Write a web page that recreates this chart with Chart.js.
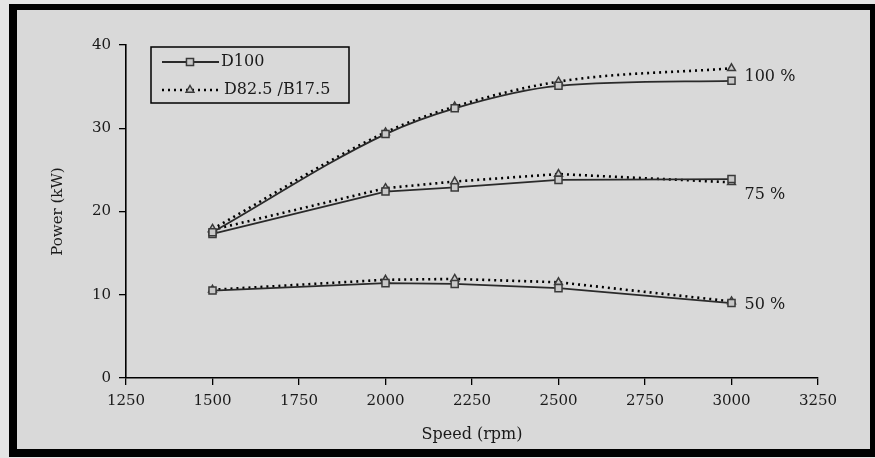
<!DOCTYPE html>
<html>
<head>
<meta charset="utf-8">
<script src="https://cdn.jsdelivr.net/npm/chart.js@4/dist/chart.umd.min.js"></script>
<style>
  html, body { margin: 0; padding: 0; background: #e4e4e4; width: 875px; height: 458px; overflow: hidden; }
  #frame { position: absolute; left: 9px; top: 4px; width: 866px; height: 453px; box-sizing: border-box;
           border-left: 8px solid #000; border-top: 6px solid #000; border-right: 5px solid #000; border-bottom: 8px solid #000;
           background: #d9d9d9; }
  #wrap { position: absolute; left: 0; top: 0; width: 875px; height: 458px; }
</style>
</head>
<body>
<div id="frame"></div>
<div id="wrap"><canvas id="c" width="875" height="458"></canvas></div>
<script>
// ---- data ----
const speeds = [1500, 2000, 2200, 2500, 3000];
const d100_100 = [17.5, 29.3, 32.4, 35.1, 35.7];
const blend_100 = [17.9, 29.5, 32.6, 35.6, 37.2];
const d100_75 = [17.3, 22.4, 22.9, 23.8, 23.9];
const blend_75 = [17.8, 22.8, 23.6, 24.5, 23.5];
const d100_50 = [10.5, 11.4, 11.3, 10.8, 9.0];
const blend_50 = [10.6, 11.8, 11.9, 11.5, 9.2];
const seriesNames = ['D100', 'D82.5 /B17.5'];
const loadLabels = ['100 %', '75 %', '50 %'];
const loadLabelY = [36.2, 22.0, 8.8];
const xTicks = [1250, 1500, 1750, 2000, 2250, 2500, 2750, 3000, 3250];
const yTicks = [0, 10, 20, 30, 40];

const FONT = "'DejaVu Serif', 'Liberation Serif', serif";
const toPts = ys => speeds.map((x, i) => ({x: x, y: ys[i]}));

const solidStyle = {
  borderColor: '#2a2a2a', borderWidth: 1.8, pointStyle: 'rect', pointRadius: 5,
  pointBorderColor: '#3a3a3a', pointBackgroundColor: '#c8c8c8', pointBorderWidth: 1.5
};
const dotStyle = {
  borderColor: '#000', borderWidth: 2.6, borderDash: [2, 4], borderCapStyle: 'butt', pointStyle: 'triangle', pointRadius: 4.5,
  pointBorderColor: '#3a3a3a', pointBackgroundColor: '#c8c8c8', pointBorderWidth: 1.5
};

const datasets = [
  Object.assign({label: seriesNames[0], data: toPts(d100_100), cubicInterpolationMode: 'monotone'}, solidStyle),
  Object.assign({label: seriesNames[1], data: toPts(blend_100), cubicInterpolationMode: 'monotone'}, dotStyle),
  Object.assign({label: seriesNames[0], data: toPts(d100_75)}, solidStyle),
  Object.assign({label: seriesNames[1], data: toPts(blend_75)}, dotStyle),
  Object.assign({label: seriesNames[0], data: toPts(d100_50)}, solidStyle),
  Object.assign({label: seriesNames[1], data: toPts(blend_50)}, dotStyle)
];

const annotatePlugin = {
  id: 'annotate',
  afterDatasetsDraw(chart) {
    const ctx = chart.ctx;
    const xs = chart.scales.x, ys = chart.scales.y;
    const ca = chart.chartArea;
    ctx.save();
    // load labels
    ctx.font = "16px " + FONT;
    ctx.fillStyle = '#1a1a1a';
    ctx.textBaseline = 'middle';
    ctx.textAlign = 'left';
    loadLabels.forEach((t, i) => {
      ctx.fillText(t, xs.getPixelForValue(speeds[speeds.length - 1]) + 13, ys.getPixelForValue(loadLabelY[i]));
    });
    // legend box
    const lx = ca.left + 25, ly = ca.top + 2, lw = 198, lh = 56;
    ctx.lineWidth = 1.5;
    ctx.strokeStyle = '#000';
    ctx.strokeRect(lx, ly, lw, lh);
    const rows = [datasets[0], datasets[1]];
    rows.forEach((ds, i) => {
      const y = ly + 15 + i * 28;
      ctx.save();
      ctx.strokeStyle = ds.borderColor;
      ctx.lineWidth = ds.borderWidth;
      ctx.setLineDash(ds.borderDash || []);
      ctx.beginPath();
      ctx.moveTo(lx + 11, y);
      ctx.lineTo(lx + 68, y);
      ctx.stroke();
      ctx.restore();
      ctx.fillStyle = ds.pointBackgroundColor;
      ctx.strokeStyle = ds.pointBorderColor;
      ctx.lineWidth = ds.pointBorderWidth;
      ctx.beginPath();
      if (ds.pointStyle === 'rect') {
        const s = ds.pointRadius * Math.SQRT1_2;
        ctx.rect(lx + 39 - s, y - s, 2 * s, 2 * s);
      } else {
        const r = ds.pointRadius;
        ctx.moveTo(lx + 39, y - r);
        ctx.lineTo(lx + 39 + r * 0.866, y + r * 0.5);
        ctx.lineTo(lx + 39 - r * 0.866, y + r * 0.5);
        ctx.closePath();
      }
      ctx.fill();
      ctx.stroke();
      ctx.fillStyle = '#1a1a1a';
      ctx.font = "16px " + FONT;
      ctx.textBaseline = 'middle';
      ctx.fillText(ds.label, lx + (i === 0 ? 70 : 73), y);
    });
    ctx.restore();
  }
};

new Chart(document.getElementById('c'), {
  type: 'line',
  data: { datasets: datasets },
  plugins: [annotatePlugin],
  options: {
    responsive: false,
    animation: false,
    devicePixelRatio: 1,
    layout: { autoPadding: false, padding: { left: 40, right: 57, top: 45, bottom: 10 } },
    plugins: { legend: { display: false }, tooltip: { enabled: false } },
    scales: {
      x: {
        type: 'linear', min: 1250, max: 3250,
        afterBuildTicks: s => { s.ticks = xTicks.map(v => ({value: v})); },
        afterFit: s => { s.height = 70; },
        grid: { drawOnChartArea: false, drawTicks: true, tickLength: 7, color: '#000', lineWidth: 1.3 },
        border: { display: true, color: '#000', width: 1.6 },
        ticks: { color: '#1a1a1a', font: { family: FONT, size: 15 }, padding: 7, maxRotation: 0, autoSkip: false,
                 callback: v => String(v) },
        title: { display: true, text: 'Speed (rpm)', color: '#1a1a1a', font: { family: FONT, size: 16 }, padding: { top: 0, bottom: 4 } }
      },
      y: {
        type: 'linear', min: 0, max: 40,
        afterBuildTicks: s => { s.ticks = yTicks.map(v => ({value: v})); },
        afterFit: s => { s.width = 86; },
        grid: { drawOnChartArea: false, drawTicks: true, tickLength: 7, color: '#000', lineWidth: 1.3 },
        border: { display: true, color: '#000', width: 1.6 },
        ticks: { color: '#1a1a1a', font: { family: FONT, size: 15 }, padding: 8, callback: v => String(v) },
        title: { display: true, text: 'Power (kW)', color: '#1a1a1a', font: { family: FONT, size: 15 }, padding: { top: 9, bottom: 0 } }
      }
    }
  }
});
</script>
</body>
</html>
